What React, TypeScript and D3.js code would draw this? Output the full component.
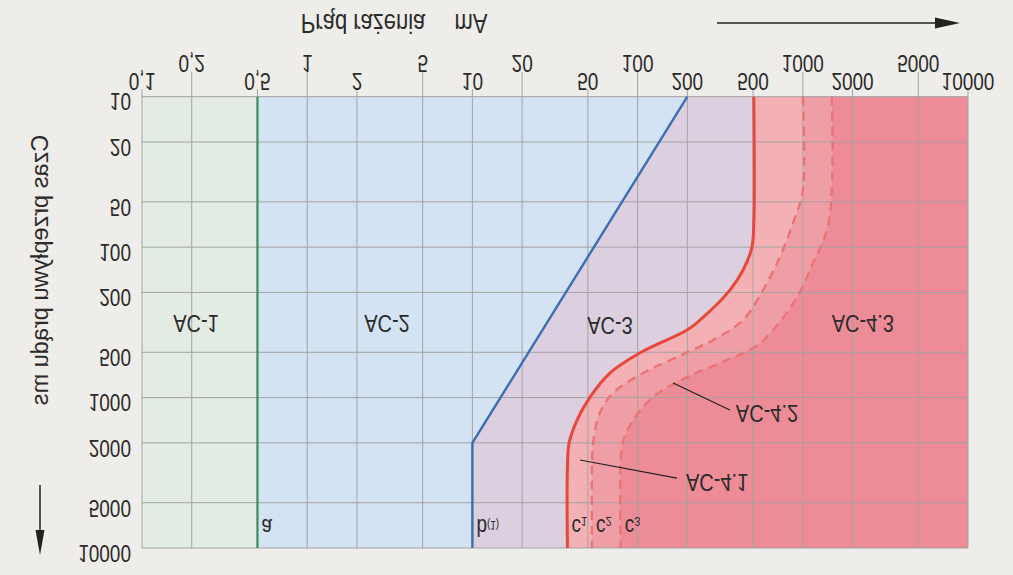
import React from "react";
import * as d3 from "d3";

// ---- data (current in mA, time in ms) ----
const xTicks = [0.1, 0.2, 0.5, 1, 2, 5, 10, 20, 50, 100, 200, 500, 1000, 2000, 5000, 10000];
const xTickLabels = ["0,1", "0,2", "0,5", "1", "2", "5", "10", "20", "50", "100", "200", "500", "1000", "2000", "5000", "10000"];
const xUpperRow = [0.2, 1, 5, 20, 100, 1000, 5000];
const yTicks = [10, 20, 50, 100, 200, 500, 1000, 2000, 5000, 10000];

const curveA: [number, number][] = [[0.5, 10], [0.5, 10000]];
const curveB: [number, number][] = [[200, 10], [10, 2000], [10, 10000]];
const curveC1: [number, number][] = [
  [505, 10], [505, 69], [492, 100], [435, 142], [362, 193], [239, 305], [199, 356],
  [103, 506], [68, 687], [51.5, 993], [43, 1412], [38.5, 2000], [37.6, 2900], [37.6, 10000],
];
const curveC2: [number, number][] = [
  [1000, 10], [1000, 42], [873, 69], [728, 116], [574, 193], [435, 305], [286, 415],
  [173, 538], [108, 687], [71, 933], [59, 1268], [54, 1920], [53, 2600], [53, 10000],
];
const curveC3: [number, number][] = [
  [1500, 10], [1500, 40], [1400, 77], [1150, 128], [923, 215], [551, 434], [315, 590],
  [199, 731], [124, 993], [94, 1413], [82, 1920], [79, 2600], [79, 10000],
];

const zoneNames = ["AC-1", "AC-2", "AC-3", "AC-4.1", "AC-4.2", "AC-4.3"];
const zoneLabelAt: [number, number][] = [[0.212, 320], [3.04, 320], [68, 330], [303, 3650], [607, 1270], [2310, 320]];
const leader41: [number, number][] = [[44.8, 2600], [173, 3430]];
const leader42: [number, number][] = [[164, 801], [362, 1210]];
const curveTagAt: [number, number][] = [[0.5, 7260], [10, 7260], [37.6, 7260], [53, 7260], [79, 7260]];
const curveTags = [["a", ""], ["b", "(1)"], ["c", "1"], ["c", "2"], ["c", "3"]];

const xTitle = "Prąd rażenia";
const xUnit = "mA";
const yTitle = "Czas przepływu prądu ms";

// ---- layout ----
const W = 1013, H = 575;
const L = 142, R = 968, T = 96.7, B = 548;
const x = d3.scaleLog().domain([0.1, 10000]).range([L, R]);
const y = d3.scaleLog().domain([10, 10000]).range([T, B]);

const FONT = "'Liberation Sans', Arial, Helvetica, sans-serif";
const TXT = "#2b2b2b";
const SY = 1.22;

function FText(props: { x: number; y: number; size: number; anchor?: string; children: any; rotate?: boolean; weight?: number }) {
  const { x: px, y: py, size, anchor = "middle", children, rotate, weight = 400 } = props;
  const tf = `translate(${px},${py}) scale(1,${rotate ? -1 : -SY})${rotate ? " rotate(-90)" : ""}`;
  return (
    <text transform={tf} textAnchor={anchor} dominantBaseline="central" fontSize={size} fontFamily={FONT} fill={TXT} fontWeight={weight}>
      {children}
    </text>
  );
}

export default function App() {
  const smooth = d3.curveCatmullRom.alpha(0.5);
  const areaOf = (pts: [number, number][], curve: any) =>
    d3.area<[number, number]>().x0(L).x1((d) => x(d[0])).y((d) => y(d[1])).curve(curve)(pts) || "";
  const lineOf = (pts: [number, number][], curve: any) =>
    d3.line<[number, number]>().x((d) => x(d[0])).y((d) => y(d[1])).curve(curve)(pts) || "";

  const grid = "#a3a3a3";
  return (
    <svg width={W} height={H} style={{ position: "absolute", left: 0, top: 0 }}>
      <rect x={0} y={0} width={W} height={H} fill="#efede9" />
      {/* zones */}
      <rect x={L} y={T} width={R - L} height={B - T} fill="#ed8b97" />
      <path d={areaOf(curveC3, smooth)} fill="#f09ea6" />
      <path d={areaOf(curveC2, smooth)} fill="#f4b1b5" />
      <path d={areaOf(curveC1, smooth)} fill="#dccfe0" />
      <path d={areaOf(curveB, d3.curveLinear)} fill="#d4e3f3" />
      <path d={areaOf(curveA, d3.curveLinear)} fill="#e3ece3" />
      {/* grid */}
      {xTicks.map((v) => (
        <line key={"gx" + v} x1={x(v)} x2={x(v)} y1={xUpperRow.includes(v) ? 72 : 89} y2={B} stroke={grid} strokeWidth={1} />
      ))}
      {yTicks.map((v) => (
        <line key={"gy" + v} x1={L} x2={R} y1={y(v)} y2={y(v)} stroke={grid} strokeWidth={1} />
      ))}
      {/* curves */}
      <path d={lineOf(curveA, d3.curveLinear)} fill="none" stroke="#3f8a5c" strokeWidth={2.2} />
      <path d={lineOf(curveB, d3.curveLinear)} fill="none" stroke="#3d6db3" strokeWidth={2.4} />
      <path d={lineOf(curveC3, smooth)} fill="none" stroke="#ea7474" strokeWidth={2.4} strokeDasharray="9 6" />
      <path d={lineOf(curveC2, smooth)} fill="none" stroke="#ea7474" strokeWidth={2.4} strokeDasharray="9 6" />
      <path d={lineOf(curveC1, smooth)} fill="none" stroke="#e8473b" strokeWidth={3} />
      {/* x tick labels */}
      {xTicks.map((v, i) => (
        <FText key={"tx" + v} x={x(v)} y={xUpperRow.includes(v) ? 63 : 81} size={19}>{xTickLabels[i]}</FText>
      ))}
      {/* y tick labels */}
      {yTicks.map((v) => (
        <FText key={"ty" + v} x={131} y={y(v) + 5} size={19} anchor="end">{String(v)}</FText>
      ))}
      {/* titles */}
      <FText x={363} y={23} size={22}>{xTitle}</FText>
      <FText x={471} y={23} size={22}>{xUnit}</FText>
      <FText x={40} y={270} size={23.5} rotate>{yTitle}</FText>
      {/* arrows */}
      <line x1={717} x2={940} y1={23} y2={23} stroke="#222" strokeWidth={1.5} />
      <path d="M935,17.5 L960,23 L935,28.5 Z" fill="#222" />
      <line x1={40} x2={40} y1={485} y2={535} stroke="#222" strokeWidth={1.5} />
      <path d="M35.5,530 L40,555 L44.5,530 Z" fill="#222" />
      {/* zone labels */}
      {zoneNames.map((n, i) => (
        <FText key={n} x={x(zoneLabelAt[i][0])} y={y(zoneLabelAt[i][1])} size={20}>{n}</FText>
      ))}
      <line x1={x(leader41[0][0])} y1={y(leader41[0][1])} x2={x(leader41[1][0])} y2={y(leader41[1][1])} stroke="#222" strokeWidth={1.2} />
      <line x1={x(leader42[0][0])} y1={y(leader42[0][1])} x2={x(leader42[1][0])} y2={y(leader42[1][1])} stroke="#222" strokeWidth={1.2} />
      {/* curve tags */}
      {curveTags.map((t, i) => (
        <FText key={"ct" + i} x={x(curveTagAt[i][0]) + 4} y={y(curveTagAt[i][1])} size={19} anchor="start">
          {t[0]}
          {t[1] ? <tspan fontSize={t[0] === "b" ? 10 : 11} dy={t[0] === "b" ? 1 : 5}>{t[1]}</tspan> : null}
        </FText>
      ))}
    </svg>
  );
}
